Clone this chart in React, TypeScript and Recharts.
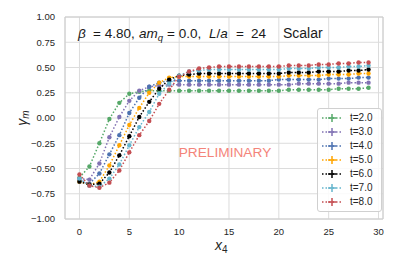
import React from 'react';
import { LineChart, Line, XAxis, YAxis, CartesianGrid, ReferenceArea } from 'recharts';

const xs = [0,1,2,3,4,5,6,7,8,9,10,11,12,13,14,15,16,17,18,19,20,21,22,23,24,25,26,27,28,29];
const t2 = [-0.59,-0.48,-0.25,-0.01,0.15,0.24,0.26,0.27,0.27,0.27,0.27,0.27,0.27,0.27,0.27,0.27,0.27,0.27,0.27,0.27,0.27,0.28,0.28,0.28,0.28,0.28,0.29,0.29,0.29,0.30];
const t3 = [-0.60,-0.61,-0.45,-0.19,0.01,0.17,0.27,0.31,0.32,0.33,0.33,0.33,0.33,0.33,0.33,0.33,0.33,0.33,0.33,0.33,0.33,0.33,0.34,0.34,0.34,0.34,0.34,0.35,0.35,0.35];
const t4 = [-0.62,-0.65,-0.55,-0.36,-0.17,0.05,0.20,0.31,0.35,0.37,0.37,0.37,0.37,0.37,0.37,0.37,0.37,0.37,0.37,0.37,0.38,0.38,0.38,0.38,0.38,0.39,0.39,0.39,0.40,0.40];
const t5 = [-0.63,-0.66,-0.63,-0.47,-0.27,-0.07,0.10,0.25,0.35,0.40,0.41,0.41,0.41,0.41,0.41,0.41,0.41,0.41,0.41,0.41,0.41,0.42,0.42,0.42,0.42,0.43,0.43,0.43,0.44,0.44];
const t6 = [-0.63,-0.66,-0.65,-0.54,-0.37,-0.18,0.01,0.16,0.29,0.38,0.42,0.43,0.44,0.44,0.44,0.44,0.44,0.44,0.44,0.44,0.44,0.45,0.45,0.45,0.46,0.46,0.46,0.47,0.47,0.48];
const t7 = [-0.60,-0.67,-0.68,-0.60,-0.46,-0.27,-0.09,0.06,0.24,0.34,0.42,0.46,0.47,0.48,0.48,0.48,0.48,0.48,0.48,0.48,0.48,0.49,0.49,0.49,0.50,0.50,0.50,0.51,0.51,0.52];
const t8 = [-0.56,-0.67,-0.69,-0.64,-0.52,-0.34,-0.17,-0.03,0.14,0.28,0.41,0.46,0.49,0.50,0.51,0.51,0.51,0.51,0.51,0.51,0.51,0.52,0.52,0.52,0.53,0.53,0.54,0.54,0.55,0.55];

const seriesNames = ['t=2.0','t=3.0','t=4.0','t=5.0','t=6.0','t=7.0','t=8.0'];
const seriesValues = [t2,t3,t4,t5,t6,t7,t8];
const seriesColors = ['#55A868','#8172B3','#4C72B0','#FFA500','#000000','#64B5CD','#C44E52'];
const xTicks = [0,5,10,15,20,25,30];
const yTicks = [-1,-0.75,-0.5,-0.25,0,0.25,0.5,0.75,1];

const data = xs.map((x, i) => {
  const row: any = { x };
  seriesNames.forEach((n, k) => { row[n] = seriesValues[k][i]; });
  return row;
});

const FONT = '"Liberation Sans", Arial, sans-serif';
const GRID = '#dcdcdc';

const fmtY = (v: number) => v.toFixed(2).replace('-', '\u2212');

const LegendBox = () => (
  <div style={{ position: 'absolute', left: 317, top: 108, width: 65, height: 104, boxSizing: 'border-box', border: '1px solid #d0d0d0', borderRadius: 3, background: 'rgba(255,255,255,0.85)', paddingTop: 2, fontFamily: FONT }}>
    {seriesNames.map((n, k) => (
      <div key={n} style={{ height: 14, display: 'flex', alignItems: 'center' }}>
        <svg width={30} height={14} style={{ flex: 'none' }}>
          <line x1={4} y1={7} x2={24} y2={7} stroke={seriesColors[k]} strokeWidth={1.5} strokeDasharray="1.5 2" />
          <line x1={10} y1={7} x2={18} y2={7} stroke={seriesColors[k]} strokeWidth={1.5} />
          <line x1={14} y1={3} x2={14} y2={11} stroke={seriesColors[k]} strokeWidth={1.5} />
        </svg>
        <span style={{ fontSize: 10, color: '#262626', marginLeft: 2, lineHeight: '14px' }}>{n}</span>
      </div>
    ))}
  </div>
);

const YLabel = () => (
  <text x={22} y={118} transform="rotate(-90 22 118)" textAnchor="middle" dominantBaseline="central" fontFamily={FONT} fontSize={14} fill="#262626">
    <tspan fontStyle="italic">γ</tspan><tspan fontStyle="italic" fontSize={10} dy={3}>m</tspan>
  </text>
);

const XLabel = () => (
  <text x={215} y={250} fontFamily={FONT} fontSize={14} fill="#262626">
    <tspan fontStyle="italic">x</tspan><tspan fontSize={10} dy={3}>4</tspan>
  </text>
);

export default function App() {
  return (
    <div style={{ position: 'absolute', left: 0, top: 0, width: 399, height: 266, background: '#fff' }}>
      <LineChart width={399} height={266} data={data} margin={{ top: 17, right: 16, bottom: 0, left: 0 }}>
        <CartesianGrid stroke={GRID} strokeWidth={1} />
        <XAxis type="number" dataKey="x" domain={[-1.45, 30.45]} ticks={xTicks} allowDataOverflow
          axisLine={false} tickLine={false} tickSize={0} tickMargin={9} height={47}
          tick={{ fontSize: 9.5, fill: '#262626', fontFamily: FONT }} label={<XLabel />} />
        <YAxis type="number" domain={[-1, 1]} ticks={yTicks} allowDataOverflow width={65}
          axisLine={false} tickLine={false} tickSize={0} tickMargin={10} tickFormatter={fmtY}
          tick={{ fontSize: 9.5, fill: '#262626', fontFamily: FONT }} label={<YLabel />} />
        <ReferenceArea x1={-1.45} x2={30.45} y1={-1} y2={1} fill="none" stroke="#cccccc" strokeWidth={1} ifOverflow="visible" />
        {seriesNames.map((n, k) => (
          <Line key={n} dataKey={n} type="linear" stroke={seriesColors[k]} strokeWidth={1.5} strokeDasharray="1.5 2"
            dot={{ r: 2.2, fill: seriesColors[k], stroke: 'none' }} isAnimationActive={false} />
        ))}
      </LineChart>
      <svg width={399} height={266} style={{ position: 'absolute', left: 0, top: 0, pointerEvents: 'none' }}>
        <text y={37.5} fontFamily={FONT} fontSize={13.5} fill="#1a1a1a">
          <tspan x={78} fontStyle="italic">β</tspan>
          <tspan x={93}>= 4.80,</tspan>
          <tspan x={139} fontStyle="italic">am</tspan>
          <tspan fontStyle="italic" fontSize={9.5} dy={3}>q</tspan>
          <tspan x={167} dy={-3}>= 0.0,</tspan>
          <tspan x={209} fontStyle="italic">L</tspan>
          <tspan>/</tspan>
          <tspan fontStyle="italic">a</tspan>
          <tspan x={236}>=</tspan>
          <tspan x={251}>24</tspan>
          <tspan x={283} fontSize={14}>Scalar</tspan>
        </text>
        <text x={225} y={157} textAnchor="middle" fontFamily={FONT} fontSize={13.7} fill="#F4847A">PRELIMINARY</text>
      </svg>
      <LegendBox />
    </div>
  );
}
